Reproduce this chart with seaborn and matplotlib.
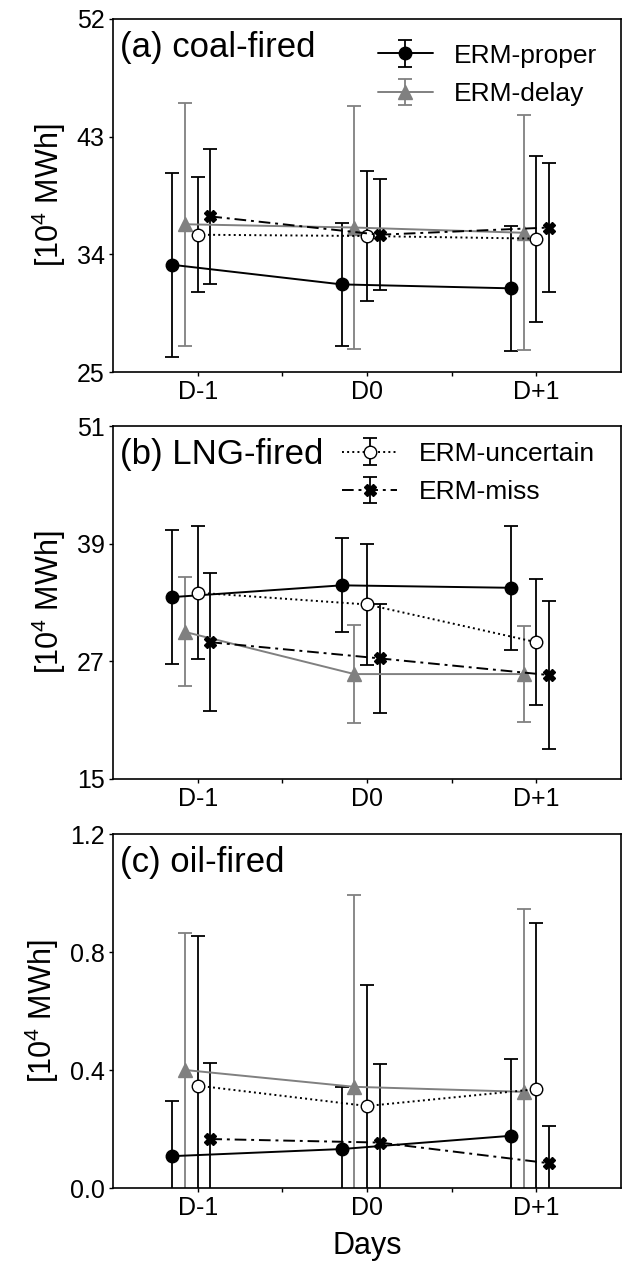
import numpy as np
import pandas as pd
import matplotlib
matplotlib.use("Agg")
import matplotlib.pyplot as plt
import seaborn as sns

days = ["D-1", "D0", "D+1"]
series = ["ERM-proper", "ERM-delay", "ERM-uncertain", "ERM-miss"]

# panel (a) coal-fired, 10^4 MWh
coal_proper = [33.2, 31.7, 31.4]
coal_delay = [36.3, 36.05, 35.65]
coal_uncertain = [35.5, 35.4, 35.2]
coal_miss = [36.9, 35.5, 36.05]
coal_proper_err = [7.05, 4.7, 4.8]
coal_delay_err = [9.3, 9.3, 9.0]
coal_uncertain_err = [4.4, 4.95, 6.35]
coal_miss_err = [5.15, 4.25, 4.95]

# panel (b) LNG-fired
lng_proper = [33.55, 34.75, 34.5]
lng_delay = [30.0, 25.7, 25.7]
lng_uncertain = [34.0, 32.8, 28.95]
lng_miss = [28.95, 27.3, 25.6]
lng_proper_err = [6.8, 4.8, 6.3]
lng_delay_err = [5.55, 5.0, 4.9]
lng_uncertain_err = [6.8, 6.15, 6.4]
lng_miss_err = [7.05, 5.55, 7.55]

# panel (c) oil-fired
oil_proper = [0.108, 0.132, 0.177]
oil_delay = [0.40, 0.343, 0.326]
oil_uncertain = [0.347, 0.278, 0.335]
oil_miss = [0.166, 0.154, 0.084]
oil_proper_err = [0.186, 0.211, 0.26]
oil_delay_err = [0.465, 0.649, 0.621]
oil_uncertain_err = [0.507, 0.409, 0.565]
oil_miss_err = [0.259, 0.265, 0.127]

sns.set_style("ticks")
plt.rcParams["font.family"] = ["Liberation Sans", "DejaVu Sans"]
plt.rcParams["mathtext.fontset"] = "custom"
plt.rcParams["mathtext.rm"] = "Liberation Sans"
for key in ["text.color", "axes.labelcolor", "xtick.color", "ytick.color", "axes.edgecolor"]:
    plt.rcParams[key] = "black"

GRAY = "#808080"
styles = {
    "ERM-proper": dict(color="black", marker="o", mfc="black", mec="black", ls="-", ms=9, off=-0.15),
    "ERM-delay": dict(color=GRAY, marker="^", mfc=GRAY, mec=GRAY, ls="-", ms=10, off=-0.075),
    "ERM-uncertain": dict(color="black", marker="o", mfc="white", mec="black", ls=":", ms=9, off=0.0),
    "ERM-miss": dict(color="black", marker="X", mfc="black", mec="black", ls=(0, (6, 2.5, 1.5, 2.5)), ms=9, off=0.075),
}

panels = [
    ("(a) coal-fired", [coal_proper, coal_delay, coal_uncertain, coal_miss],
     [coal_proper_err, coal_delay_err, coal_uncertain_err, coal_miss_err],
     [25, 34, 43, 52], ["ERM-proper", "ERM-delay"], (0.50, 0.96)),
    ("(b) LNG-fired", [lng_proper, lng_delay, lng_uncertain, lng_miss],
     [lng_proper_err, lng_delay_err, lng_uncertain_err, lng_miss_err],
     [15, 27, 39, 51], ["ERM-uncertain", "ERM-miss"], (0.43, 0.985)),
    ("(c) oil-fired", [oil_proper, oil_delay, oil_uncertain, oil_miss],
     [oil_proper_err, oil_delay_err, oil_uncertain_err, oil_miss_err],
     [0.0, 0.4, 0.8, 1.2], None, None),
]

fig = plt.figure(figsize=(6.23, 12.66), dpi=100)
W, H = 623, 1266
boxes = [(19, 372), (426, 779), (834, 1188)]
left, right = 113, 621

for (title, means, errs, yticks, leg, anchor), (top, bot) in zip(panels, boxes):
    ax = fig.add_axes([left / W, (H - bot) / H, (right - left) / W, (bot - top) / H])
    x0 = np.arange(len(days))
    for name, m, e in zip(series, means, errs):
        st = styles[name]
        xs = x0 + st["off"]
        df = pd.DataFrame({"x": xs, "y": m})
        ax.errorbar(xs, m, yerr=e, fmt="none", ecolor=st["color"], elinewidth=1.3,
                    capsize=5, capthick=1.3, zorder=2)
        sns.lineplot(data=df, x="x", y="y", ax=ax, color=st["color"], marker=st["marker"],
                     markerfacecolor=st["mfc"], markeredgecolor=st["mec"], markersize=st["ms"],
                     markeredgewidth=1.0, linestyle=st["ls"], linewidth=1.4, zorder=3)
    ax.set_xlim(-0.5, 2.5)
    ax.set_ylim(yticks[0], yticks[-1])
    ax.set_yticks(yticks)
    if isinstance(yticks[0], float):
        ax.set_yticklabels([f"{v:.1f}" for v in yticks])
    ax.set_xticks(x0)
    ax.set_xticklabels(days)
    ax.set_xticks([0.5, 1.5], minor=True)
    ax.tick_params(axis="both", which="both", direction="out", length=3, width=1,
                   labelsize=18, pad=3)
    ax.set_xlabel("")
    ax.set_ylabel("[10$^4$ MWh]", fontsize=22, labelpad=6)
    for sp in ax.spines.values():
        sp.set_linewidth(1.2)
    ax.text(0.013, 0.965, title, transform=ax.transAxes, ha="left", va="top", fontsize=25)
    if leg:
        handles = []
        for name in leg:
            st = styles[name]
            h = ax.errorbar([np.nan], [np.nan], yerr=[np.nan], color=st["color"],
                            marker=st["marker"], mfc=st["mfc"], mec=st["mec"], ms=st["ms"],
                            ls=st["ls"], lw=1.4, elinewidth=1.3, capsize=5, capthick=1.3,
                            label=name)
            handles.append(h)
        ax.legend(handles=handles, labels=leg, loc="upper left", bbox_to_anchor=anchor,
                  frameon=False, fontsize=19, handlelength=2.1, handletextpad=0.8,
                  labelspacing=0.55, borderaxespad=0.0)
    last_ax = ax

last_ax.set_xlabel("Days", fontsize=22, labelpad=8)

fig.savefig("out.png", dpi=100)
